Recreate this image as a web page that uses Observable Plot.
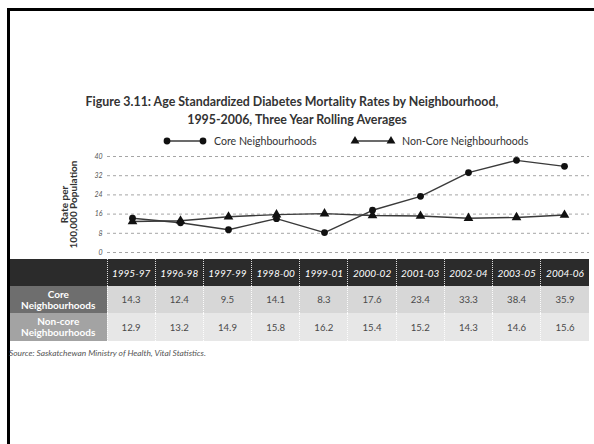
<!DOCTYPE html>
<html>
<head>
<meta charset="utf-8">
<script src="https://cdn.jsdelivr.net/npm/d3@7"></script>
<script src="https://cdn.jsdelivr.net/npm/@observablehq/plot@0.6"></script>
<style>
  html, body { margin: 0; padding: 0; background: #fff; }
  #page { position: relative; width: 594px; height: 444px; overflow: hidden; font-family: Lato, "DejaVu Sans", sans-serif; }
  #frame { position: absolute; left: 7px; top: 8px; width: 700px; height: 600px; border-top: 3px solid #000; border-left: 3px solid #000; }
  .title { position: absolute; left: 0; width: 594px; text-align: center; font-weight: bold; font-size: 12.4px; color: #333; }
  #legend { position: absolute; left: 0; top: 133px; }
  #chart { position: absolute; left: 0; top: 146px; }
  #chart svg { overflow: visible; }
  #tbl { position: absolute; left: 10px; top: 259px; border-collapse: collapse; table-layout: fixed; }
  #tbl td, #tbl th { padding: 0; text-align: center; vertical-align: middle; }
  #tbl th { background: #2b2b2b; color: #fff; font-style: italic; font-weight: normal; font-size: 10px; height: 27px; border-left: 1px dotted rgba(255,255,255,0.85); }
  #tbl th.corner { border-left: none; }
  #tbl td { font-size: 9.6px; color: #4a4a4a; border-left: 1px dotted rgba(255,255,255,0.9); }
  #tbl td.lab { color: #fff; font-weight: bold; font-size: 10px; line-height: 11px; border-left: none; }
  #source { position: absolute; left: 9px; top: 348px; font-size: 8.4px; font-style: italic; color: #555; }
</style>
</head>
<body>
<div id="page">
  <div id="frame"></div>
  <div class="title" style="top:94px; left:-5px">Figure 3.11: Age Standardized Diabetes Mortality Rates by Neighbourhood,</div>
  <div class="title" style="top:112px">1995-2006, Three Year Rolling Averages</div>
  <div id="legend"></div>
  <div id="chart"></div>
  <table id="tbl"></table>
  <div id="source">Source: Saskatchewan Ministry of Health, Vital Statistics.</div>
</div>
<script>
// Three-year rolling periods
const periods = ["1995-97", "1996-98", "1997-99", "1998-00", "1999-01", "2000-02", "2001-03", "2002-04", "2003-05", "2004-06"];
// Age standardized diabetes mortality, rate per 100,000 population
const coreRates = [14.3, 12.4, 9.5, 14.1, 8.3, 17.6, 23.4, 33.3, 38.4, 35.9];
const nonCoreRates = [12.9, 13.2, 14.9, 15.8, 16.2, 15.4, 15.2, 14.3, 14.6, 15.6];
const yTicks = [0, 8, 16, 24, 32, 40];
const seriesNames = ["Core Neighbourhoods", "Non-Core Neighbourhoods"];
const rowLabels = ["Core\nNeighbourhoods", "Non-core\nNeighbourhoods"];

const core = periods.map((p, i) => ({period: p, rate: coreRates[i]}));
const nonCore = periods.map((p, i) => ({period: p, rate: nonCoreRates[i]}));

const chart = Plot.plot({
  width: 594,
  height: 112,
  marginLeft: 107,
  marginRight: 5,
  marginTop: 10,
  marginBottom: 6,
  style: {fontFamily: "Lato, 'DejaVu Sans', sans-serif", background: "transparent", overflow: "visible"},
  x: {type: "point", domain: periods, padding: 0.5, axis: null},
  y: {domain: [0, 40], ticks: yTicks, label: null},
  marks: [
    Plot.ruleY(yTicks, {stroke: "#a5a5a5", strokeWidth: 1, strokeDasharray: "3,3"}),
    Plot.axisY({ticks: yTicks, tickSize: 0, tickPadding: 5, fontSize: 7, fontStyle: "italic", fill: "#555"}),
    Plot.text(["Rate per\n100,000 Population"], {
      frameAnchor: "left", textAnchor: "middle", dx: -38, rotate: -90, fontSize: 10, fontWeight: "bold",
      fill: "#333", lineHeight: 0.95
    }),
    Plot.line(nonCore, {x: "period", y: "rate", stroke: "#3a3a3a", strokeWidth: 1.4}),
    Plot.line(core, {x: "period", y: "rate", stroke: "#3a3a3a", strokeWidth: 1.4}),
    Plot.dot(nonCore, {x: "period", y: "rate", symbol: "triangle", r: 3.6, fill: "#111", stroke: "none"}),
    Plot.dot(core, {x: "period", y: "rate", symbol: "circle", r: 3.4, fill: "#111", stroke: "none"})
  ]
});
document.getElementById("chart").appendChild(chart);

// Legend: a short line with two markers per series
const leg = d3.select("#legend").append("svg").attr("width", 594).attr("height", 16)
  .style("font-family", "Lato, 'DejaVu Sans', sans-serif");
const legendItems = [
  {name: seriesNames[0], x0: 167, symbol: d3.symbolCircle, size: 36},
  {name: seriesNames[1], x0: 355, symbol: d3.symbolTriangle, size: 34}
];
for (const item of legendItems) {
  const g = leg.append("g").attr("transform", "translate(0,8)");
  g.append("line").attr("x1", item.x0).attr("x2", item.x0 + 36).attr("y1", 0).attr("y2", 0)
    .attr("stroke", "#3a3a3a").attr("stroke-width", 1.4);
  for (const cx of [item.x0, item.x0 + 36]) {
    g.append("path").attr("d", d3.symbol(item.symbol, item.size)()).attr("transform", `translate(${cx},0)`).attr("fill", "#111");
  }
  g.append("text").attr("x", item.x0 + 47).attr("y", 0).attr("dy", "0.35em")
    .attr("font-size", 10.6).attr("fill", "#333").text(item.name);
}

// Data table below the chart
const tbl = d3.select("#tbl");
const cg = tbl.append("colgroup");
cg.append("col").style("width", "97px");
periods.forEach(() => cg.append("col").style("width", "48.2px"));
const head = tbl.append("tr");
head.append("th").attr("class", "corner");
periods.forEach(p => head.append("th").text(p));
const rows = [
  {label: rowLabels[0], values: coreRates, labBg: "#6e6e6e", bg: "#d7d7d7", h: 27},
  {label: rowLabels[1], values: nonCoreRates, labBg: "#a3a3a3", bg: "#e7e7e7", h: 28}
];
for (const r of rows) {
  const tr = tbl.append("tr").style("height", r.h + "px");
  tr.append("td").attr("class", "lab").style("background", r.labBg)
    .html(r.label.split("\n").join("<br>"));
  r.values.forEach(v => tr.append("td").style("background", r.bg).text(v.toFixed(1)));
}
</script>
</body>
</html>
